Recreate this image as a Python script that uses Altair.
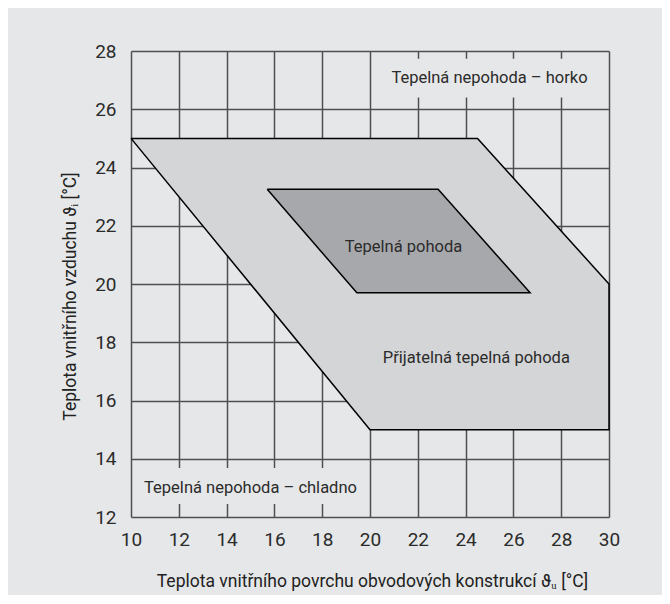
import altair as alt
import pandas as pd

# Polygons (x = surface temperature, y = air temperature)
outer_x = [10, 24.5, 30, 30, 20, 10]
outer_y = [25, 25, 20, 15, 15, 25]
inner_x = [15.7, 22.85, 26.7, 19.45, 15.7]
inner_y = [23.25, 23.25, 19.7, 19.7, 23.25]

# Zone labels
label_text = ["Tepelná nepohoda – horko", "Tepelná pohoda",
              "Přijatelná tepelná pohoda", "Tepelná nepohoda – chladno"]
label_x = [25.0, 21.4, 24.45, 15.0]
label_y = [27.07, 21.27, 17.45, 13.0]

# Label background boxes (cover the grid)
box_x1 = [20.5, 10.5]
box_x2 = [29.5, 19.5]
box_y1 = [26.4, 12.45]
box_y2 = [27.73, 13.68]

x_ticks = list(range(10, 31, 2))
y_ticks = list(range(12, 29, 2))

BG = "#e6e7e8"
W, H = 478, 466

outer = pd.DataFrame({"x": outer_x, "y": outer_y, "o": range(len(outer_x))})
inner = pd.DataFrame({"x": inner_x, "y": inner_y, "o": range(len(inner_x))})
labels = pd.DataFrame({"t": label_text, "x": label_x, "y": label_y})
boxes = pd.DataFrame({"x1": box_x1, "x2": box_x2, "y1": box_y1, "y2": box_y2})

xs = alt.Scale(domain=[10, 30], nice=False)
ys = alt.Scale(domain=[12, 28], nice=False)

xaxis = alt.Axis(values=x_ticks, grid=True, ticks=False, domain=False,
                 gridColor="#4f4f4f", gridWidth=1.5, gridOpacity=1,
                 labelFont="Roboto", labelFontSize=19, labelColor="#2b2b2b",
                 labelPadding=13, labelFlush=False,
                 title="Teplota vnitřního povrchu obvodových konstrukcí ϑᵤ [°C]",
                 titleFont="Roboto", titleFontSize=17.5, titleFontWeight="normal",
                 titleColor="#222222", titleX=241, titleY=64, titleBaseline="middle")
yaxis = alt.Axis(values=y_ticks, grid=True, ticks=False, domain=False,
                 gridColor="#4f4f4f", gridWidth=1.5, gridOpacity=1,
                 labelFont="Roboto", labelFontSize=19, labelColor="#2b2b2b",
                 labelPadding=15, labelFlush=False,
                 title="Teplota vnitřního vzduchu ϑᵢ [°C]",
                 titleFont="Roboto", titleFontSize=17.5, titleFontWeight="normal",
                 titleColor="#222222", titleX=-61, titleY=245, titleBaseline="middle",
                 titleAngle=270)

base_outer = alt.Chart(outer).mark_line(
    fill="#d4d5d7", stroke="black", strokeWidth=1.5, strokeJoin="miter"
).encode(
    x=alt.X("x:Q", scale=xs, axis=xaxis),
    y=alt.Y("y:Q", scale=ys, axis=yaxis),
    order="o:Q",
)

inner_poly = alt.Chart(inner).mark_line(
    fill="#a7a8ab", stroke="black", strokeWidth=1.5, strokeJoin="miter"
).encode(x=alt.X("x:Q", scale=xs), y=alt.Y("y:Q", scale=ys), order="o:Q")

box_layer = alt.Chart(boxes).mark_rect(fill=BG).encode(
    x=alt.X("x1:Q", scale=xs), x2="x2:Q",
    y=alt.Y("y1:Q", scale=ys), y2="y2:Q",
)

text_layer = alt.Chart(labels).mark_text(
    font="Roboto", fontSize=16.5, color="#2b2b2b", align="center", baseline="middle"
).encode(x=alt.X("x:Q", scale=xs), y=alt.Y("y:Q", scale=ys), text="t:N")

chart = alt.layer(base_outer, inner_poly, box_layer, text_layer).properties(
    width=W, height=H,
    autosize=alt.AutoSizeParams(type="none"),
    padding={"left": 123, "top": 43, "right": 53, "bottom": 78},
    background=BG,
).configure_view(stroke=None)

chart.save("out.html", embed_options={"renderer": "svg", "actions": False})
